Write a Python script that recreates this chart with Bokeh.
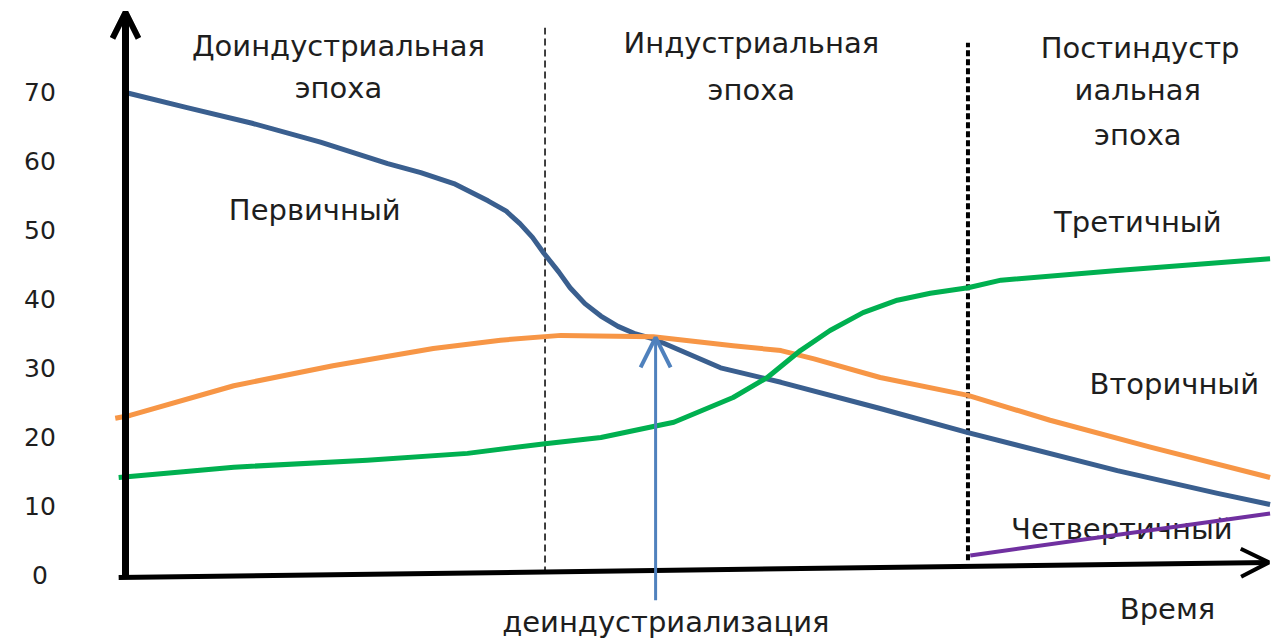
from bokeh.plotting import figure
from bokeh.models import Range1d, Arrow, OpenHead, ColumnDataSource
from bokeh.core.properties import value
from bokeh.embed import file_html
from bokeh.resources import INLINE

# ---- data (time in arbitrary units 0..100, share in %) ----
primary_t = [0, 5.4, 11.2, 17.1, 23.0, 25.9, 28.8, 31.8, 33.4, 34.6, 35.7, 36.7, 38.0,
             39.0, 40.3, 41.7, 43.2, 44.6, 46.3, 52.2, 57.5, 66.2, 73.9, 87.0, 95.8, 100.4]
primary_v = [70.0, 67.8, 65.5, 62.8, 59.7, 58.4, 56.8, 54.3, 52.8, 51.0, 49.0, 46.7, 44.0,
             41.7, 39.4, 37.6, 36.1, 35.1, 34.3, 30.1, 28.0, 24.2, 20.7, 15.2, 11.9, 10.3]

secondary_t = [-0.9, 0.4, 9.5, 18.2, 27.0, 32.9, 38.2, 46.3, 53.3, 57.5, 60.4, 66.2, 73.9,
               81.1, 89.9, 100.4]
secondary_v = [22.8, 23.2, 27.5, 30.4, 32.9, 34.1, 34.8, 34.6, 33.3, 32.6, 31.4, 28.7, 26.1,
               22.5, 18.6, 14.2]

tertiary_t = [-0.6, 9.5, 21.2, 30.0, 36.8, 41.7, 46.3, 48.1, 53.3, 56.3, 59.2, 61.8, 64.7,
              67.7, 70.6, 73.9, 76.8, 87.0, 100.4]
tertiary_v = [14.2, 15.7, 16.7, 17.7, 19.1, 20.0, 21.6, 22.2, 25.8, 28.7, 32.6, 35.5, 38.1,
              39.9, 40.9, 41.7, 42.8, 44.2, 45.9]

quaternary_t = [74.1, 100.4]
quaternary_v = [2.9, 9.0]

era_bounds = [36.8, 73.9]
deindustrialization_t = 46.5

tick_values = [0, 10, 20, 30, 40, 50, 60, 70]
tick_labels = ["0", "10", "20", "30", "40", "50", "60", "70"]

FONT = value("DejaVu Sans")
TXT = "#1e1e1e"

p = figure(width=1285, height=644, output_backend="svg", toolbar_location=None,
           x_range=Range1d(-10.965, 101.754), y_range=Range1d(-10.0, 83.333),
           x_axis_location=None, y_axis_location=None, min_border=0)
p.grid.visible = False
p.outline_line_color = None
p.background_fill_color = "white"
p.border_fill_color = "white"

# ---- text labels ----
labels = ColumnDataSource(dict(
    x=[18.68, 18.68, 54.9, 54.9, 89.0, 88.8, 88.8, 88.8, 16.6, 92.0, 87.4, 91.4, 47.4],
    y=[76.8, 70.6, 77.2, 70.4, 76.5, 70.3, 63.8, 51.3, 53.0, 27.8, 6.7, -4.9, -6.8],
    text=["Доиндустриальная", "эпоха", "Индустриальная", "эпоха", "Постиндустр",
          "иальная", "эпоха", "Третичный", "Первичный", "Вторичный", "Четвертичный",
          "Время", "деиндустриализация"],
))
p.text(x="x", y="y", text="text", source=labels, text_font=FONT, text_font_size="29px",
       text_color=TXT, text_align="center", text_baseline="middle")

# tick labels
p.text(x=[-7.5] * len(tick_values), y=tick_values, text=tick_labels, text_font=FONT,
       text_font_size="25px", text_color=TXT, text_align="center", text_baseline="middle")

# ---- era boundaries ----
p.line(x=[era_bounds[0]] * 2, y=[0.3, 79.4], line_color="black", line_width=1.5,
       line_dash="7 4")
p.line(x=[era_bounds[1]] * 2, y=[2.2, 77.2], line_color="black", line_width=4,
       line_dash="6 3")

# ---- series ----
p.line(primary_t, primary_v, line_color="#3A5F8F", line_width=5, line_join="round")
p.line(secondary_t, secondary_v, line_color="#F79646", line_width=5, line_join="round")
p.line(tertiary_t, tertiary_v, line_color="#00B050", line_width=5, line_join="round")
p.line(quaternary_t, quaternary_v, line_color="#7030A0", line_width=4)

# ---- axes as arrows ----
p.add_layout(Arrow(x_start=0, y_start=-0.4, x_end=0, y_end=81.6, line_color="black",
                   line_width=7,
                   end=OpenHead(size=26, line_color="black", line_width=6)))
p.add_layout(Arrow(x_start=-0.6, y_start=-0.3, x_end=100.3, y_end=1.9, line_color="black",
                   line_width=5,
                   end=OpenHead(size=28, line_color="black", line_width=4)))

# deindustrialization arrow
p.add_layout(Arrow(x_start=deindustrialization_t, y_start=-3.6,
                   x_end=deindustrialization_t, y_end=34.5, line_color="#4F81BD",
                   line_width=3,
                   end=OpenHead(size=30, line_color="#4F81BD", line_width=4)))

open("out.html", "w").write(file_html(p, INLINE))
